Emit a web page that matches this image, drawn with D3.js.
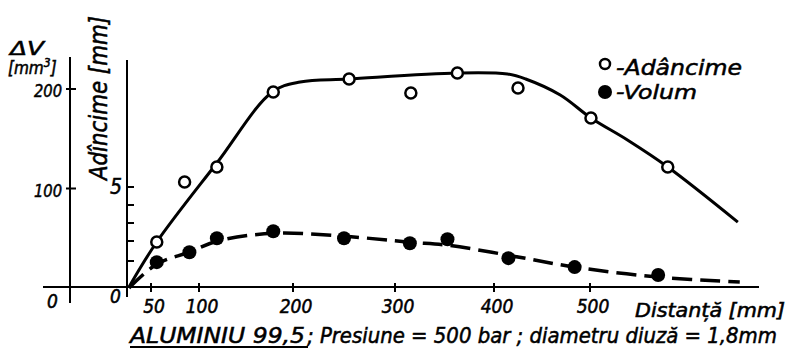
<!DOCTYPE html>
<html>
<head>
<meta charset="utf-8">
<script src="https://cdn.jsdelivr.net/npm/d3@7"></script>
<style>
  html, body { margin: 0; padding: 0; background: #fff; }
  svg { display: block; }
  text { font-family: "DejaVu Sans Condensed", "DejaVu Sans", "Liberation Sans", sans-serif;
         font-style: italic; fill: #000; stroke: #000; stroke-width: 0.5px; }
</style>
</head>
<body>
<svg id="chart" width="793" height="362"></svg>
<script>
// Measured points: distance [mm] vs depth [mm] (open circles)
const depthDist  = [56, 85, 119, 179, 255, 316, 363, 425, 501, 581];
const depthValue = [1.95, 5.25, 6.0, 9.75, 10.4, 9.7, 10.7, 9.95, 8.45, 6.0];

// Measured points: distance [mm] vs volume ΔV [mm³] (filled circles)
const volDist  = [56, 90, 119, 179, 250, 315, 353, 415, 484, 571];
const volValue = [26, 36, 50, 57, 50, 45, 49, 30, 21, 13];

// Hand-fitted trend curves
const depthFitDist  = [0, 56, 119, 178, 207, 255, 363, 414, 433, 469, 501, 539, 581, 654];
const depthFitValue = [0, 1.95, 6.2, 9.75, 10.25, 10.4, 10.7, 10.65, 10.4, 9.6, 8.45, 7.35, 6.0, 3.05];
const volFitDist  = [0, 56, 90, 119, 179, 250, 315, 353, 415, 484, 571, 656];
const volFitValue = [0, 24, 36, 47, 55, 52, 46, 43, 33, 21, 11, 6];

// Axis ticks
const xTicks = [50, 100, 200, 300, 400, 500];
const xTickLabels = ["50", "100", "200", "300", "400", "500"];
const depthTicks = [1, 2, 3, 4, 5];
const depthTickLabels = ["", "", "", "", "5"];
const volTicks = [100, 200];
const volTickLabels = ["100", "200"];

const svg = d3.select("#chart");

// The hand-drawn axes are not evenly graduated, so the scales are polylinear
const x = d3.scaleLinear()
  .domain([0, 50, 100, 200, 300, 400, 500, 600, 700])
  .range([129, 151, 199, 293, 395, 494, 590, 686, 782]);
const yDepth = d3.scaleLinear()
  .domain([0, 1, 2, 3, 4, 5, 11])
  .range([287, 261, 241, 223, 205, 187, 67]);
const yVol = d3.scaleLinear()
  .domain([0, 200])
  .range([288, 89]);

const axisY = 287, volAxisX = 70, depthAxisX = 127;

// Axis lines
svg.append("line").attr("x1", 43).attr("x2", 759).attr("y1", axisY).attr("y2", axisY)
  .attr("stroke", "#000").attr("stroke-width", 2);
svg.append("line").attr("x1", volAxisX).attr("x2", volAxisX).attr("y1", 57).attr("y2", 303)
  .attr("stroke", "#000").attr("stroke-width", 2);
svg.append("line").attr("x1", depthAxisX).attr("x2", depthAxisX).attr("y1", 60).attr("y2", 297)
  .attr("stroke", "#000").attr("stroke-width", 2);

// Distance ticks (crossing the baseline) and labels
svg.selectAll(".xt").data(xTicks).join("line")
  .attr("x1", d => x(d)).attr("x2", d => x(d))
  .attr("y1", axisY - 4).attr("y2", axisY + 5)
  .attr("stroke", "#000").attr("stroke-width", 2);
svg.selectAll(".xl").data(xTicks).join("text")
  .attr("x", d => x(d) + 3).attr("y", 313)
  .attr("text-anchor", "middle").attr("font-size", 19)
  .text((d, i) => xTickLabels[i]);

// Depth axis ticks
svg.selectAll(".dt").data(depthTicks).join("line")
  .attr("x1", depthAxisX).attr("x2", depthAxisX + 7)
  .attr("y1", d => yDepth(d)).attr("y2", d => yDepth(d))
  .attr("stroke", "#000").attr("stroke-width", 2);
svg.selectAll(".dl").data(depthTicks).join("text")
  .attr("x", 122).attr("y", d => yDepth(d) + 7)
  .attr("text-anchor", "end").attr("font-size", 21)
  .text((d, i) => depthTickLabels[i]);

// Volume axis ticks
svg.selectAll(".vt").data(volTicks).join("line")
  .attr("x1", volAxisX - 4).attr("x2", volAxisX + 6)
  .attr("y1", d => yVol(d)).attr("y2", d => yVol(d))
  .attr("stroke", "#000").attr("stroke-width", 2);
svg.selectAll(".vl").data(volTicks).join("text")
  .attr("x", 62).attr("y", d => yVol(d) + 8)
  .attr("text-anchor", "end").attr("font-size", 18)
  .attr("textLength", 28).attr("lengthAdjust", "spacingAndGlyphs")
  .text((d, i) => volTickLabels[i]);

// Zero labels
svg.append("text").attr("x", 47).attr("y", 308).attr("font-size", 19).text("0");
svg.append("text").attr("x", 110).attr("y", 303).attr("font-size", 19).text("0");

// Axis titles
svg.append("text").attr("x", 10).attr("y", 55).attr("font-size", 19)
  .attr("textLength", 34).attr("lengthAdjust", "spacingAndGlyphs").text("ΔV");
const mm3 = svg.append("text").attr("x", 8).attr("y", 74).attr("font-size", 17);
mm3.append("tspan").text("[mm");
mm3.append("tspan").attr("dy", -7).attr("font-size", 12).text("3");
mm3.append("tspan").attr("dy", 7).text("]");

svg.append("text")
  .attr("transform", "translate(107,180) rotate(-90)")
  .attr("font-size", 24)
  .attr("textLength", 164).attr("lengthAdjust", "spacingAndGlyphs")
  .text("Adîncime [mm]");

svg.append("text").attr("x", 635).attr("y", 317).attr("font-size", 19)
  .attr("textLength", 150).attr("lengthAdjust", "spacingAndGlyphs")
  .text("Distanță [mm]");

// Caption
svg.append("text").attr("x", 130).attr("y", 343).attr("font-size", 22)
  .attr("textLength", 175).attr("lengthAdjust", "spacingAndGlyphs")
  .text("ALUMINIU 99,5");
svg.append("line").attr("x1", 130).attr("x2", 308).attr("y1", 347).attr("y2", 347)
  .attr("stroke", "#000").attr("stroke-width", 2);
svg.append("text").attr("x", 307).attr("y", 343).attr("font-size", 22)
  .attr("textLength", 470).attr("lengthAdjust", "spacingAndGlyphs")
  .text("; Presiune = 500 bar ; diametru diuză = 1,8mm");

// Trend curves
const depthLine = d3.line()
  .x((d, i) => x(depthFitDist[i]))
  .y(d => yDepth(d))
  .curve(d3.curveCatmullRom.alpha(0.5));
svg.append("path").datum(depthFitValue).attr("d", depthLine)
  .attr("fill", "none").attr("stroke", "#000").attr("stroke-width", 3);

const volLine = d3.line()
  .x((d, i) => x(volFitDist[i]))
  .y(d => yVol(d))
  .curve(d3.curveCatmullRom.alpha(0.5));
svg.append("path").datum(volFitValue).attr("d", volLine)
  .attr("fill", "none").attr("stroke", "#000").attr("stroke-width", 3.5)
  .attr("stroke-dasharray", "20 8");

// Measured points
svg.selectAll(".dp").data(depthValue).join("circle")
  .attr("cx", (d, i) => x(depthDist[i])).attr("cy", d => yDepth(d))
  .attr("r", 5.5).attr("fill", "#fff").attr("stroke", "#000").attr("stroke-width", 2.5);
svg.selectAll(".vp").data(volValue).join("circle")
  .attr("cx", (d, i) => x(volDist[i])).attr("cy", d => yVol(d))
  .attr("r", 7).attr("fill", "#000");

// Legend
svg.append("circle").attr("cx", 605).attr("cy", 64).attr("r", 5)
  .attr("fill", "#fff").attr("stroke", "#000").attr("stroke-width", 2.5);
svg.append("text").attr("x", 616).attr("y", 75).attr("font-size", 22)
  .attr("textLength", 126).attr("lengthAdjust", "spacingAndGlyphs").text("-Adâncime");
svg.append("circle").attr("cx", 605).attr("cy", 92).attr("r", 7).attr("fill", "#000");
svg.append("text").attr("x", 616).attr("y", 99).attr("font-size", 20)
  .attr("textLength", 81).attr("lengthAdjust", "spacingAndGlyphs").text("-Volum");
</script>
</body>
</html>
